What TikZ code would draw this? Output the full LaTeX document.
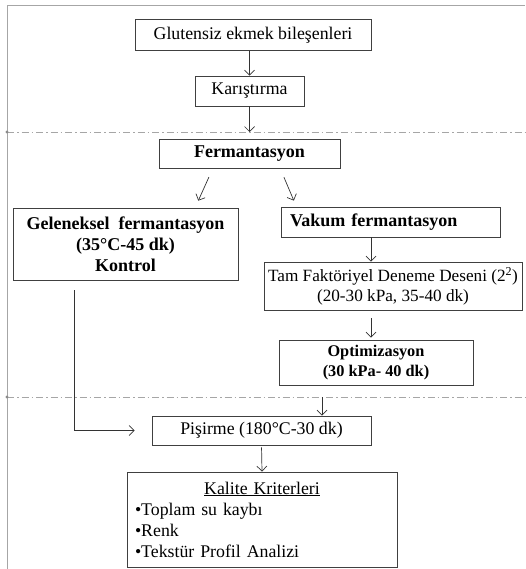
\documentclass[tikz,border=0pt]{standalone}
\usepackage{fontspec}
\setmainfont{Liberation Serif}
\usepackage{tikz}
\usetikzlibrary{
arrows.meta,
positioning,
calc,
}

\tikzset{
  kutu/.style={draw=black!75, line width=0.8pt, inner sep=0pt, align=center,
    font=\fontsize{17.8}{21}\selectfont},
  kalin/.style={kutu, font=\fontsize{18}{21}\selectfont\bfseries},
  ok/.style={draw=black!80, line width=0.7pt, -{Straight Barb[length=5pt, width=10pt]}},
  ayrac/.style={draw=black!35, line width=0.6pt, dash pattern=on 7pt off 3pt on 1.5pt off 3pt},
  cerceve/.style={draw=black!35, line width=1pt},
}

\begin{document}
\begin{tikzpicture}[x=1pt, y=-1pt]
  \useasboundingbox (0,0) rectangle (525,569);

  % frame and separators
  \draw[cerceve] (7,569) -- (7,6) -- (525,6);
  \draw[ayrac] (7,132) -- (525,132);
  \draw[ayrac] (7,397) -- (525,397);
  \fill[black!45] (7,132) circle[radius=1.6pt] (7,397) circle[radius=1.6pt];

  % boxes
  \node[kutu, minimum width=236pt, minimum height=31pt] (glu) at (253,35) {Glutensiz ekmek bileşenleri};
  \node[kutu, minimum width=109pt, minimum height=30pt] (kar) at (249.5,91) {Karıştırma};
  \node[kalin, minimum width=181pt, minimum height=29pt] (fer) at (249.5,153.5) {Fermantasyon};
  \node[kalin, minimum width=225pt, minimum height=72pt] (gel) at (125.5,244)
    {Geleneksel\ \ fermantasyon\\(35°C-45 dk)\\Kontrol};
  \node[kalin, minimum width=219pt, minimum height=30pt, text width=201pt, align=left] (vak) at (390.5,222)
    {Vakum fermantasyon};
  \node[kutu, minimum width=258pt, minimum height=48pt, font=\fontsize{17.2}{20}\selectfont] (tam) at (393,286)
    {Tam Faktöriyel Deneme Deseni (2\textsuperscript{2})\\(20-30 kPa, 35-40 dk)};
  \node[kalin, minimum width=194pt, minimum height=45pt, font=\fontsize{16.3}{20}\selectfont\bfseries] (opt) at (376,362.5)
    {Optimizasyon\\(30 kPa- 40 dk)};
  \node[kutu, minimum width=219pt, minimum height=29pt] (pis) at (261.5,430.5) {Pişirme (180°C-30 dk)};
  \node[kutu, minimum width=270pt, minimum height=95pt, text width=254pt, align=left] (kal) at (262,519.5)
    {\centering\underline{Kalite Kriterleri}\par\raggedright
     •Toplam su kaybı\\•Renk\\•Tekstür Profil Analizi};

  % free ends
  \coordinate (k1) at (kar.south |- 0,132);
  \coordinate (o1) at (322,397);

  % connectors
  \draw[ok] (glu.south -| kar) -- (kar.north);
  \draw[ok] (kar.south) -- (k1);
  \draw[ok, shorten <=10pt, shorten >=8pt] (213,168) -- (195,208);
  \draw[ok, shorten <=10pt, shorten >=8pt] (280,168) -- (297,208);
  \draw[ok] (vak.south -| 371,0) -- (tam.north -| 371,0);
  \draw[ok, shorten <=8pt, shorten >=2pt] (tam.south -| 371,0) -- (opt.north -| 371,0);
  \draw[ok] (o1) -- (pis.north -| o1);
  \draw[ok, shorten <=10pt, shorten >=17pt] (gel.south -| 74,0) |- (pis.west);
  \draw[ok, shorten <=2pt] (pis.south) -- (kal.north);
\end{tikzpicture}
\end{document}
